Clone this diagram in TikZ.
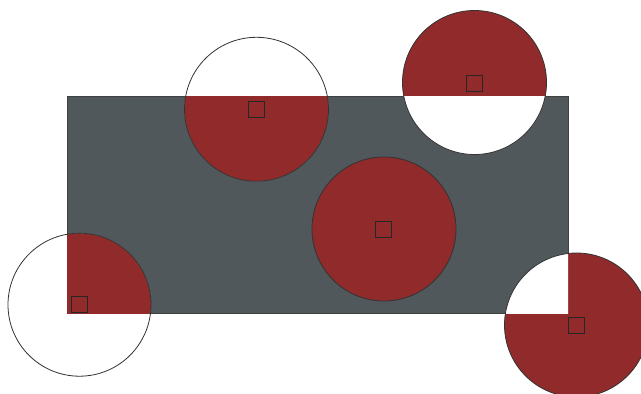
\documentclass[tikz,border=0pt]{standalone}
\begin{document}
\begin{tikzpicture}[x=1pt,y=-1pt,
  slate/.style={fill=slategrey,draw=black!75,line width=0.5pt},
  redfill/.style={fill=discred},
  whitefill/.style={fill=white},
  rim/.style={draw=black!80,line width=0.8pt},
  centremark/.style={draw=black!85,line width=1pt,minimum size=16pt,inner sep=0pt,fill=none,shape=rectangle}]
\definecolor{slategrey}{RGB}{80,88,92}
\definecolor{discred}{RGB}{145,42,42}
\useasboundingbox (0,0) rectangle (641,394);
\def\rectpath{(67,96) rectangle (568,313)}
\path[slate] \rectpath;
% disc 1: part inside the rectangle red
\fill[whitefill] (79.5,304.7) circle (71.5);
\begin{scope}\clip \rectpath; \fill[redfill] (79.5,304.7) circle (71.5); \end{scope}
\draw[rim] (79.5,304.7) circle (71.5);
% disc 2
\fill[whitefill] (256.5,109.3) circle (72);
\begin{scope}\clip \rectpath; \fill[redfill] (256.5,109.3) circle (72); \end{scope}
\draw[rim] (256.5,109.3) circle (72);
% disc 3: part outside red
\fill[redfill] (474.5,82.5) circle (72);
\begin{scope}\clip \rectpath; \fill[whitefill] (474.5,82.5) circle (72); \end{scope}
\draw[rim] (474.5,82.5) circle (72);
% disc 4
\fill[redfill] (384,229) circle (72);
\draw[rim] (384,229) circle (72);
% disc 5
\fill[redfill] (576.5,325) circle (72);
\begin{scope}\clip \rectpath; \fill[whitefill] (576.5,325) circle (72); \end{scope}
\draw[rim] (576.5,325) circle (72);
% centre squares
\node[centremark] (c1) at (79.5,304.7) {};
\node[centremark] (c2) at (256.5,109.5) {};
\node[centremark] (c3) at (474.7,83) {};
\node[centremark] (c4) at (383.7,229) {};
\node[centremark] (c5) at (576.7,325) {};
\end{tikzpicture}
\end{document}
